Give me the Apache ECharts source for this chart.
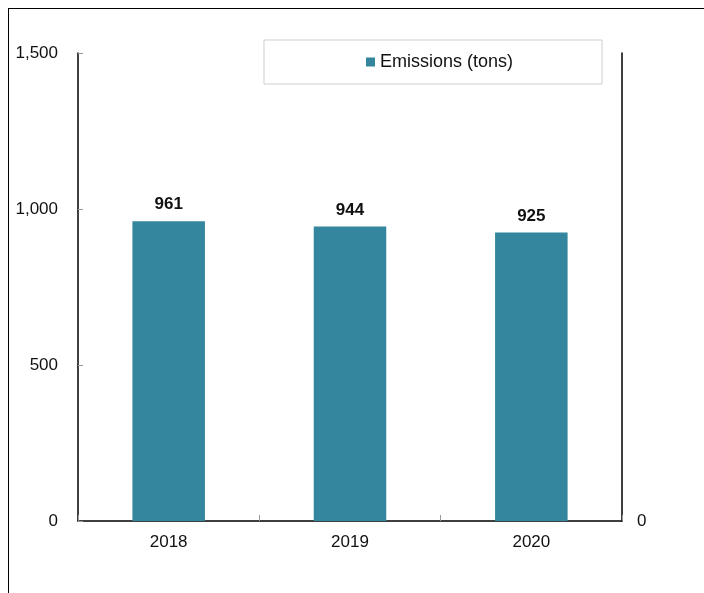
<!DOCTYPE html>
<html>
<head>
<meta charset="utf-8">
<script src="https://cdn.jsdelivr.net/npm/echarts@6/dist/echarts.min.js"></script>
<style>
  html, body { margin: 0; padding: 0; background: #fff; }
  #chart { position: absolute; left: 0; top: 0; width: 704px; height: 593px; }
  #frame { position: absolute; left: 8px; top: 8px; width: 700px; height: 590px;
           border-top: 1px solid #000; border-left: 1px solid #000; pointer-events: none; }
</style>
</head>
<body>
<div id="chart"></div>
<div id="frame"></div>
<script>
// data
const years = ["2018", "2019", "2020"];
const emissions = [961, 944, 925];
const seriesName = "Emissions (tons)";

const font = "Arial, 'Liberation Sans', sans-serif";
const chart = echarts.init(document.getElementById("chart"));

chart.setOption({
    animation: false,
    textStyle: { fontFamily: font },
    legend: {
        left: 264,
        top: 40,
        padding: [13, 89, 13, 102],
        itemWidth: 9,
        itemHeight: 9,
        itemGap: 4,
        icon: "rect",
        borderColor: "#cfcfcf",
        borderWidth: 1,
        textStyle: { fontSize: 18, color: "#111", fontFamily: font },
        data: [seriesName]
    },
    grid: { left: 78, right: 82, top: 53, bottom: 72 },
    xAxis: {
        type: "category",
        data: years,
        axisLine: { show: true, lineStyle: { color: "#000", width: 1.5 } },
        axisTick: { show: true, inside: true, length: 6, lineStyle: { color: "#999" } },
        axisLabel: { fontSize: 17, color: "#111", margin: 13, fontFamily: font }
    },
    yAxis: [
        {
            type: "value",
            min: 0,
            max: 1500,
            interval: 500,
            position: "left",
            axisLine: { show: true, lineStyle: { color: "#000", width: 1.5 } },
            axisTick: { show: true, inside: true, length: 5, lineStyle: { color: "#999" } },
            splitLine: { show: false },
            axisLabel: {
                fontSize: 17, color: "#111", margin: 20, fontFamily: font,
                formatter: v => v.toLocaleString("en-US")
            }
        },
        {
            type: "value",
            min: 0,
            max: 1500,
            interval: 500,
            position: "right",
            axisLine: { show: true, lineStyle: { color: "#000", width: 1.5 } },
            axisTick: { show: false },
            splitLine: { show: false },
            axisLabel: {
                fontSize: 17, color: "#111", margin: 15, fontFamily: font,
                formatter: v => (v === 0 ? "0" : "")
            }
        }
    ],
    series: [
        {
            name: seriesName,
            type: "bar",
            data: emissions,
            barWidth: "40%",
            itemStyle: { color: "#33869d" },
            label: {
                show: true,
                position: "top",
                distance: 8,
                fontSize: 17,
                fontWeight: "bold",
                color: "#111",
                fontFamily: font
            }
        }
    ]
});
</script>
</body>
</html>
